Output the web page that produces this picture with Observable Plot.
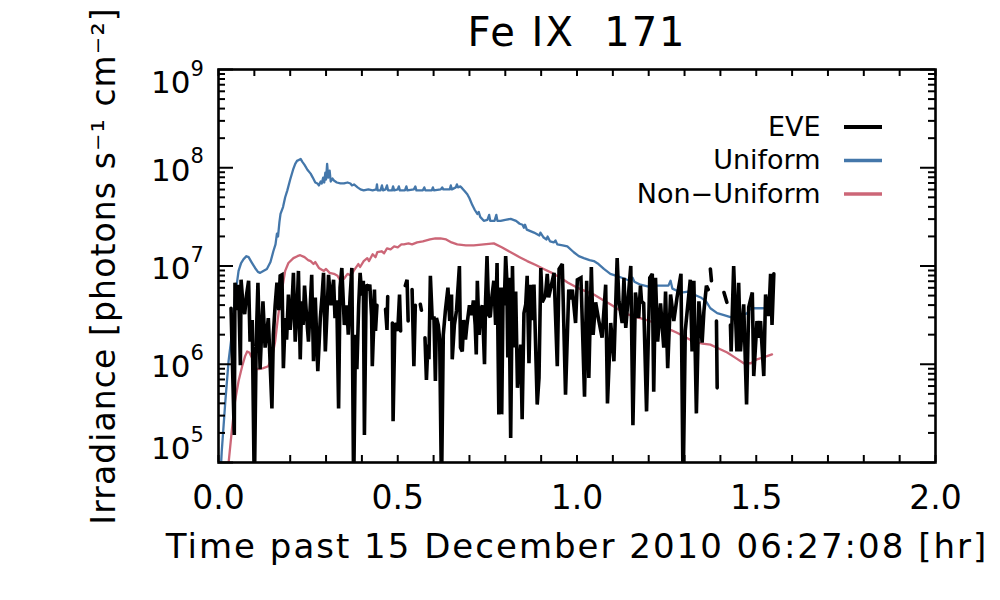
<!DOCTYPE html>
<html><head><meta charset="utf-8">
<script src="https://cdn.jsdelivr.net/npm/d3@7"></script>
<script src="https://cdn.jsdelivr.net/npm/@observablehq/plot@0.6"></script>
<style>
html,body{margin:0;padding:0;background:#fff;}
svg text{white-space:pre;}
</style></head><body><div id="chart"></div>
<script>
// ---- text ----
const title = "Fe IX  171";
const xTitle = "Time past 15 December 2010 06:27:08 [hr]";
const yTitle = "Irradiance [photons s\u207B\u00B9 cm\u207B\u00B2]";
const seriesNames = ["EVE", "Uniform", "Non\u2212Uniform"];
const seriesColors = ["#000000", "#4477AA", "#CC6677"];

// ---- ticks ----
const xTickValues = [0,0.1,0.2,0.3,0.4,0.5,0.6,0.7,0.8,0.9,1.0,1.1,1.2,1.3,1.4,1.5,1.6,1.7,1.8,1.9,2.0];
const xLabelValues = [0, 0.5, 1.0, 1.5, 2.0];
const xLabels = ["0.0", "0.5", "1.0", "1.5", "2.0"];
const yDecades = [1e5, 1e6, 1e7, 1e8, 1e9];
const yExponents = ["5", "6", "7", "8", "9"];
const yMinorMultipliers = [2,3,4,5,6,7,8,9];

// ---- data: [time (hr), log10 irradiance] ----
const uniformPts = [[0.003,4.7],[0.009,5.11],[0.019,5.62],[0.028,6.03],[0.037,6.30],[0.046,6.68],[0.056,6.95],[0.063,7.03],[0.070,7.07],[0.078,7.10],[0.084,7.09],[0.092,7.04],[0.102,6.98],[0.110,6.94],[0.116,6.93],[0.125,6.95],[0.135,6.97],[0.145,7.04],[0.153,7.15],[0.159,7.22],[0.163,7.33],[0.166,7.30],[0.170,7.45],[0.173,7.53],[0.180,7.60],[0.186,7.70],[0.192,7.77],[0.200,7.88],[0.208,7.98],[0.214,8.04],[0.219,8.07],[0.224,8.08],[0.229,8.09],[0.234,8.06],[0.240,8.03],[0.248,7.98],[0.257,7.94],[0.263,7.90],[0.270,7.85],[0.276,7.84],[0.280,7.82],[0.285,7.86],[0.288,7.84],[0.292,7.90],[0.295,7.85],[0.298,7.95],[0.300,7.88],[0.303,8.04],[0.306,7.90],[0.310,7.97],[0.313,7.86],[0.318,7.89],[0.322,7.87],[0.330,7.85],[0.340,7.84],[0.350,7.84],[0.360,7.85],[0.368,7.84],[0.372,7.82],[0.378,7.83],[0.388,7.80],[0.396,7.78],[0.405,7.77],[0.418,7.78],[0.430,7.77],[0.440,7.78],[0.442,7.83],[0.444,7.77],[0.452,7.77],[0.456,7.82],[0.459,7.77],[0.466,7.78],[0.470,7.82],[0.473,7.77],[0.484,7.77],[0.487,7.81],[0.490,7.77],[0.500,7.78],[0.503,7.81],[0.506,7.77],[0.520,7.77],[0.524,7.81],[0.527,7.77],[0.545,7.78],[0.549,7.81],[0.552,7.77],[0.570,7.77],[0.574,7.80],[0.577,7.77],[0.595,7.77],[0.598,7.80],[0.601,7.77],[0.620,7.78],[0.624,7.80],[0.627,7.78],[0.645,7.78],[0.648,7.82],[0.651,7.78],[0.662,7.80],[0.665,7.83],[0.668,7.80],[0.675,7.81],[0.680,7.79],[0.687,7.76],[0.694,7.73],[0.700,7.69],[0.708,7.62],[0.715,7.57],[0.722,7.53],[0.726,7.55],[0.730,7.50],[0.740,7.46],[0.750,7.47],[0.755,7.52],[0.758,7.46],[0.770,7.46],[0.775,7.52],[0.778,7.46],[0.787,7.46],[0.800,7.47],[0.815,7.48],[0.830,7.46],[0.840,7.43],[0.848,7.42],[0.852,7.39],[0.855,7.42],[0.860,7.37],[0.880,7.34],[0.895,7.31],[0.898,7.34],[0.907,7.29],[0.915,7.27],[0.918,7.30],[0.925,7.25],[0.935,7.24],[0.940,7.26],[0.945,7.22],[0.960,7.21],[0.973,7.20],[0.991,7.14],[1.005,7.10],[1.019,7.08],[1.035,7.06],[1.047,7.05],[1.060,7.02],[1.075,6.97],[1.093,6.92],[1.110,6.90],[1.125,6.88],[1.140,6.86],[1.150,6.85],[1.155,6.88],[1.160,6.84],[1.177,6.81],[1.200,6.79],[1.220,6.80],[1.245,6.80],[1.255,6.80],[1.261,6.85],[1.266,6.77],[1.290,6.73],[1.310,6.74],[1.326,6.71],[1.345,6.68],[1.360,6.64],[1.372,6.57],[1.391,6.52],[1.410,6.50],[1.428,6.48],[1.456,6.49],[1.475,6.52],[1.484,6.57],[1.500,6.57],[1.520,6.57],[1.540,6.59]];

const nonUniformPts = [[0.022,4.7],[0.028,4.99],[0.037,5.32],[0.046,5.62],[0.056,5.83],[0.066,5.98],[0.074,6.08],[0.080,6.13],[0.086,6.12],[0.094,6.06],[0.102,5.96],[0.112,5.95],[0.125,5.96],[0.139,5.98],[0.150,6.08],[0.158,6.23],[0.165,6.45],[0.172,6.64],[0.180,6.82],[0.186,6.95],[0.195,7.03],[0.209,7.08],[0.220,7.10],[0.228,7.11],[0.240,7.09],[0.250,7.06],[0.257,7.05],[0.265,7.02],[0.270,7.04],[0.280,6.98],[0.294,6.95],[0.300,6.97],[0.310,6.93],[0.322,6.92],[0.332,6.90],[0.340,6.85],[0.350,6.87],[0.360,6.92],[0.370,6.90],[0.377,6.95],[0.390,7.02],[0.395,6.99],[0.405,7.05],[0.415,7.08],[0.420,7.05],[0.430,7.12],[0.438,7.09],[0.443,7.14],[0.455,7.15],[0.462,7.13],[0.470,7.18],[0.480,7.17],[0.490,7.20],[0.500,7.19],[0.510,7.22],[0.517,7.22],[0.530,7.23],[0.540,7.22],[0.554,7.24],[0.570,7.25],[0.590,7.27],[0.605,7.28],[0.619,7.28],[0.635,7.27],[0.650,7.24],[0.666,7.22],[0.690,7.21],[0.712,7.21],[0.740,7.22],[0.768,7.23],[0.790,7.19],[0.815,7.14],[0.840,7.09],[0.861,7.05],[0.885,7.01],[0.907,6.97],[0.930,6.93],[0.954,6.88],[0.975,6.83],[1.000,6.78],[1.020,6.75],[1.047,6.71],[1.070,6.66],[1.093,6.61],[1.115,6.56],[1.140,6.51],[1.165,6.48],[1.186,6.46],[1.210,6.43],[1.233,6.41],[1.255,6.36],[1.279,6.32],[1.300,6.28],[1.326,6.23],[1.350,6.21],[1.372,6.20],[1.395,6.16],[1.419,6.12],[1.440,6.07],[1.465,6.01],[1.485,6.01],[1.502,6.05],[1.520,6.07],[1.544,6.10]];

const evePts = [[0.035,6.57],[0.044,5.28],[0.046,6.83],[0.052,6.55],[0.056,6.81],[0.061,5.99],[0.063,6.86],[0.068,6.62],[0.073,6.51],[0.078,6.70],[0.084,6.85],[0.088,6.23],[0.094,6.45],[0.100,4.7],[0.105,6.20],[0.110,6.83],[0.116,5.95],[0.124,6.64],[0.130,6.17],[0.139,6.47],[0.149,5.55],[0.153,6.30],[0.158,6.60],[0.163,6.83],[0.168,6.55],[0.172,6.90],[0.177,6.91],[0.181,5.96],[0.186,6.47],[0.190,6.25],[0.195,6.71],[0.200,6.35],[0.205,6.60],[0.209,6.93],[0.214,6.23],[0.219,6.55],[0.223,6.95],[0.228,6.05],[0.232,6.64],[0.236,6.40],[0.240,6.80],[0.246,6.47],[0.251,6.23],[0.256,6.60],[0.260,6.91],[0.265,6.03],[0.270,6.68],[0.277,5.93],[0.284,6.47],[0.289,6.70],[0.293,6.93],[0.298,6.13],[0.303,6.55],[0.307,6.91],[0.314,6.60],[0.321,6.86],[0.325,6.47],[0.330,6.65],[0.335,5.55],[0.339,6.78],[0.344,6.98],[0.351,6.40],[0.358,6.60],[0.362,6.30],[0.367,6.68],[0.372,6.98],[0.377,4.7],[0.382,6.30],[0.386,5.95],[0.391,6.60],[0.395,6.93],[0.400,6.70],[0.404,6.85],[0.407,5.28],[0.412,6.81],[0.418,6.78],[0.422,6.81],[0.427,6.49],[0.429,5.98],[0.433,6.40],[0.435,6.76],[0.438,6.34],[0.442,6.60],[0.446,null],[0.466,6.56],[0.470,6.35],[0.472,6.69],[0.476,null],[0.485,6.42],[0.487,5.42],[0.492,6.42],[0.500,6.34],[0.505,6.71],[0.508,6.34],[0.512,null],[0.521,6.80],[0.526,6.86],[0.529,6.44],[0.532,null],[0.540,6.76],[0.545,5.98],[0.549,6.60],[0.552,null],[0.563,6.61],[0.566,6.55],[0.568,null],[0.576,6.27],[0.580,5.84],[0.584,6.20],[0.587,6.05],[0.591,6.90],[0.596,6.47],[0.601,6.47],[0.605,5.83],[0.608,6.47],[0.613,6.40],[0.617,6.25],[0.622,4.7],[0.627,6.30],[0.633,6.55],[0.640,6.78],[0.645,6.44],[0.650,6.71],[0.652,6.05],[0.658,6.40],[0.664,6.55],[0.672,7.00],[0.675,6.17],[0.680,6.13],[0.684,6.45],[0.689,6.25],[0.693,6.40],[0.700,6.60],[0.706,6.50],[0.711,6.65],[0.716,6.40],[0.719,6.10],[0.722,6.85],[0.727,6.30],[0.731,6.55],[0.736,6.60],[0.742,6.00],[0.745,6.65],[0.749,7.10],[0.754,6.50],[0.758,6.48],[0.763,6.70],[0.768,6.85],[0.773,6.40],[0.777,7.03],[0.782,5.49],[0.787,6.78],[0.790,5.49],[0.794,6.78],[0.797,6.60],[0.801,7.10],[0.804,6.88],[0.807,6.07],[0.810,6.88],[0.815,5.25],[0.820,7.00],[0.824,6.17],[0.829,6.74],[0.834,5.76],[0.843,6.20],[0.847,5.44],[0.852,6.52],[0.857,6.61],[0.861,6.90],[0.866,6.01],[0.871,6.81],[0.875,6.45],[0.880,6.81],[0.889,5.59],[0.894,5.86],[0.899,6.98],[0.903,6.63],[0.912,6.70],[0.917,6.92],[0.921,6.68],[0.936,6.93],[0.945,5.98],[0.950,6.97],[0.959,7.02],[0.968,5.69],[0.977,6.76],[0.982,6.66],[0.987,6.76],[0.996,6.42],[1.001,6.86],[1.011,6.88],[1.015,6.40],[1.021,5.67],[1.027,6.85],[1.033,5.86],[1.040,6.99],[1.045,6.30],[1.052,6.63],[1.061,6.44],[1.070,6.27],[1.080,6.81],[1.085,5.60],[1.094,6.42],[1.103,6.03],[1.112,7.08],[1.117,6.64],[1.126,6.42],[1.131,6.88],[1.136,6.37],[1.150,7.00],[1.156,5.38],[1.163,6.73],[1.172,6.47],[1.177,6.80],[1.180,6.64],[1.186,6.62],[1.194,5.52],[1.203,6.88],[1.210,6.92],[1.214,5.72],[1.219,6.88],[1.225,6.23],[1.233,6.62],[1.242,6.17],[1.247,6.74],[1.253,5.96],[1.261,6.71],[1.270,6.44],[1.279,6.68],[1.290,6.92],[1.296,4.7],[1.302,6.34],[1.316,6.86],[1.321,6.13],[1.326,6.85],[1.333,5.50],[1.340,6.64],[1.349,6.22],[1.354,6.54],[1.361,6.80],[1.366,6.76],[1.368,null],[1.372,6.97],[1.375,6.85],[1.378,null],[1.389,6.44],[1.391,5.76],[1.394,null],[1.410,6.73],[1.418,6.63],[1.421,null],[1.428,6.40],[1.430,6.13],[1.437,7.00],[1.446,6.13],[1.451,6.83],[1.456,6.13],[1.465,6.61],[1.473,5.59],[1.479,6.58],[1.489,6.73],[1.493,5.88],[1.502,6.44],[1.507,6.27],[1.512,6.44],[1.521,5.88],[1.526,6.71],[1.535,6.49],[1.540,6.92],[1.544,6.40],[1.549,6.92]];

const toRows = pts => pts.map(([t, l]) => ({t, v: l == null ? NaN : Math.pow(10, l)}));
const eve = toRows(evePts), uniform = toRows(uniformPts), nonUniform = toRows(nonUniformPts);
const yMinor = yDecades.slice(0, -1).flatMap(d => yMinorMultipliers.map(m => d * m));

const W = 1000, H = 600, ML = 218, MR = 65, MT = 69, MB = 138;
const FW = W - ML - MR, FH = H - MT - MB;
const font = "DejaVu Sans";
const tick = {stroke: "black", strokeWidth: 2};

const chart = Plot.plot({
  width: W, height: H,
  marginLeft: ML, marginRight: MR, marginTop: MT, marginBottom: MB,
  style: {fontFamily: font, background: "white", color: "black", overflow: "visible"},
  x: {domain: [0, 2], axis: null},
  y: {type: "log", domain: [1e5, 1e9], axis: null},
  marks: [
    Plot.line(uniform, {x: "t", y: "v", stroke: seriesColors[1], strokeWidth: 2.3, clip: true}),
    Plot.line(nonUniform, {x: "t", y: "v", stroke: seriesColors[2], strokeWidth: 2.3, clip: true}),
    Plot.line(eve, {x: "t", y: "v", stroke: seriesColors[0], strokeWidth: 3.6, strokeLinejoin: "miter", strokeMiterlimit: 2, clip: true}),
    // inward ticks
    Plot.ruleX(xTickValues, {x: d => d, insetTop: FH - 7, ...tick}),
    Plot.ruleX(xTickValues, {x: d => d, insetBottom: FH - 7, ...tick}),
    Plot.ruleY(yDecades, {y: d => d, insetRight: FW - 15, ...tick}),
    Plot.ruleY(yDecades, {y: d => d, insetLeft: FW - 15, ...tick}),
    Plot.ruleY(yMinor, {y: d => d, insetRight: FW - 7, ...tick}),
    Plot.ruleY(yMinor, {y: d => d, insetLeft: FW - 7, ...tick}),
    Plot.frame({stroke: "black", strokeWidth: 2.6}),
    // x tick labels
    Plot.text(xLabelValues, {x: d => d, text: (d, i) => xLabels[i], frameAnchor: "bottom", lineAnchor: "middle", dy: 36, fontSize: 33}),
    // y tick labels: "10" + exponent
    Plot.text(yDecades.slice(1, 4), {y: d => d, text: () => "10", frameAnchor: "left", textAnchor: "end", lineAnchor: "middle", dx: -28, dy: 3, fontSize: 31}),
    Plot.text(yDecades.slice(1, 4), {y: d => d, text: (d, i) => yExponents[i + 1], frameAnchor: "left", textAnchor: "start", lineAnchor: "middle", dx: -28, dy: -11, fontSize: 21}),
    Plot.text(yDecades.slice(0, 1), {y: d => d, text: () => "10", frameAnchor: "left", textAnchor: "end", lineAnchor: "middle", dx: -28, dy: -13, fontSize: 31}),
    Plot.text(yDecades.slice(0, 1), {y: d => d, text: () => yExponents[0], frameAnchor: "left", textAnchor: "start", lineAnchor: "middle", dx: -28, dy: -27, fontSize: 21}),
    Plot.text(yDecades.slice(4), {y: d => d, text: () => "10", frameAnchor: "left", textAnchor: "end", lineAnchor: "middle", dx: -28, dy: 14, fontSize: 31}),
    Plot.text(yDecades.slice(4), {y: d => d, text: () => yExponents[4], frameAnchor: "left", textAnchor: "start", lineAnchor: "middle", dx: -28, dy: 0, fontSize: 21}),
    // titles
    Plot.text([title], {text: d => d, frameAnchor: "top", textAnchor: "middle", lineAnchor: "middle", dy: -36, fontSize: 40}),
    Plot.text([xTitle], {text: d => d, frameAnchor: "bottom", textAnchor: "middle", lineAnchor: "middle", dy: 85, fontSize: 34}),
    Plot.text([yTitle], {text: d => d, frameAnchor: "left", textAnchor: "middle", lineAnchor: "middle", dx: -114, dy: 0, rotate: -90, fontSize: 33}),
    // legend labels
    Plot.text([seriesNames[0]], {text: d => d, frameAnchor: "top-right", textAnchor: "end", lineAnchor: "middle", dx: -115, dy: 58, fontSize: 27}),
    Plot.text([seriesNames[1]], {text: d => d, frameAnchor: "top-right", textAnchor: "end", lineAnchor: "middle", dx: -115, dy: 91, fontSize: 27}),
    Plot.text([seriesNames[2]], {text: d => d, frameAnchor: "top-right", textAnchor: "end", lineAnchor: "middle", dx: -115, dy: 125, fontSize: 27})
  ]
});

const svg = d3.select(chart);
// letter spacing for the wide-set titles
const spacing = new Map([[title, "2px"], [xTitle, "2px"], [yTitle, "1.1px"]]);
svg.selectAll("text").each(function() {
  const s = spacing.get(this.textContent);
  if (s) this.style.letterSpacing = s;
});

// legend line samples
const legendY = [127, 160.5, 194];
const legendW = [4, 3.5, 3.5];
svg.append("g").attr("aria-label", "legend-lines")
  .selectAll("line").data(seriesColors).join("line")
  .attr("x1", 844).attr("x2", 882)
  .attr("y1", (d, i) => legendY[i]).attr("y2", (d, i) => legendY[i])
  .attr("stroke", d => d).attr("stroke-width", (d, i) => legendW[i]);

document.getElementById("chart").appendChild(chart);
</script>
</body></html>
